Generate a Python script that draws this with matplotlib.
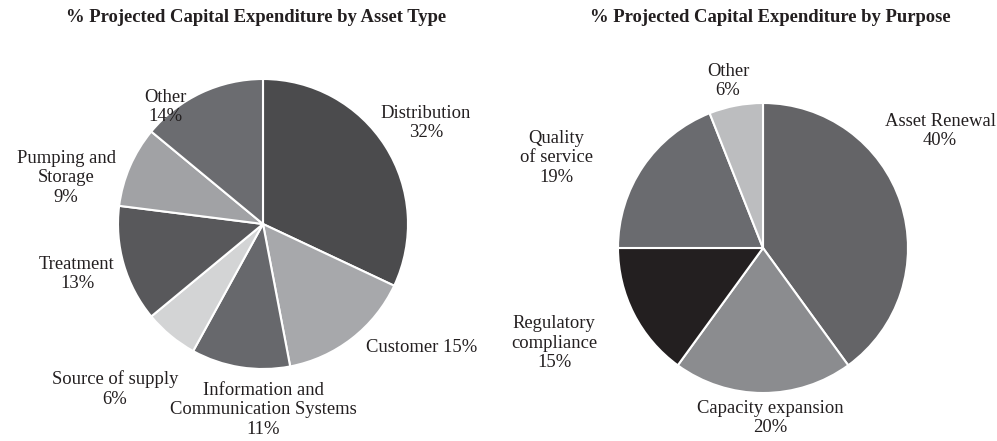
import matplotlib
matplotlib.use("Agg")
import matplotlib.pyplot as plt

# ---- data ----
asset_labels = ["Distribution\n32%", "Customer 15%", "Information and\nCommunication Systems\n11%",
                "Source of supply\n6%", "Treatment\n13%", "Pumping and\nStorage\n9%", "Other\n14%"]
asset_values = [32, 15, 11, 6, 13, 9, 14]
asset_colors = ["#4b4b4d", "#a7a8ab", "#67686c", "#d3d4d5", "#58585b", "#a1a2a5", "#6b6c70"]

purpose_labels = ["Asset Renewal\n40%", "Capacity expansion\n20%", "Regulatory\ncompliance\n15%",
                  "Quality\nof service\n19%", "Other\n6%"]
purpose_values = [40, 20, 15, 19, 6]
purpose_colors = ["#646467", "#8b8c8f", "#231f20", "#6a6b6f", "#bcbdbf"]

title_left = "% Projected Capital Expenditure by Asset Type"
title_right = "% Projected Capital Expenditure by Purpose"

# ---- layout (pixel positions, y from top) ----
W, H = 997, 441
left_center = (263, 224)
right_center = (763, 248)
radius = 145
asset_label_pos = [(426, 123), (422, 347), (263, 410), (115, 389), (77, 274), (66, 178), (165, 107)]
purpose_label_pos = [(940, 131), (770, 418), (554, 343), (556, 158), (728, 81)]

plt.rcParams['font.family'] = ['Liberation Serif', 'DejaVu Serif']
fig = plt.figure(figsize=(W / 100, H / 100), dpi=100)
ax = fig.add_axes([0, 0, 1, 1])

def draw(values, colors, center, labels, positions):
    ax.pie(values, colors=colors, startangle=90, counterclock=False,
           center=(center[0], H - center[1]), radius=radius,
           wedgeprops=dict(edgecolor='white', linewidth=1.5), frame=True)
    for lab, (x, y) in zip(labels, positions):
        ax.text(x, H - y, lab, ha='center', va='center', fontsize=13.4,
                color='#231f20', linespacing=1.22)

draw(asset_values, asset_colors, left_center, asset_labels, asset_label_pos)
draw(purpose_values, purpose_colors, right_center, purpose_labels, purpose_label_pos)
ax.set_xlim(0, W)
ax.set_ylim(0, H)
ax.set_aspect('equal')
ax.axis('off')

ax.text(256, H - 18, title_left, ha='center', va='center', fontsize=13.4,
        fontweight='bold', color='#231f20')
ax.text(770, H - 18, title_right, ha='center', va='center', fontsize=13.4,
        fontweight='bold', color='#231f20')

fig.savefig("out.png", dpi=100)
